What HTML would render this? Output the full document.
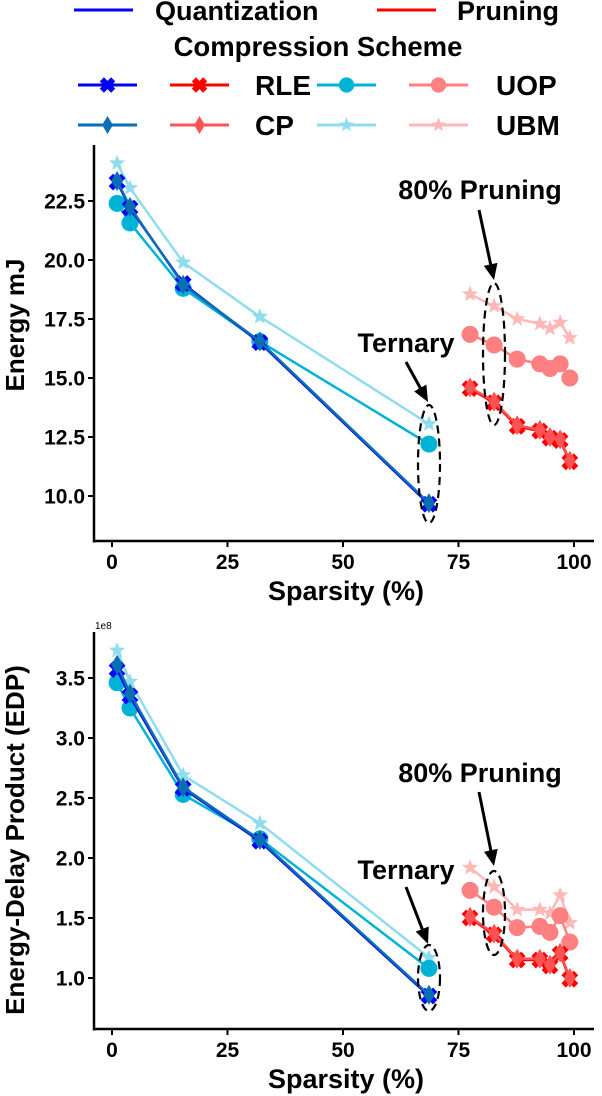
<!DOCTYPE html>
<html><head><meta charset="utf-8">
<style>
body{margin:0;background:#fff;}
svg{display:block;font-family:"Liberation Sans",sans-serif;}
</style></head>
<body>
<svg id="chart" width="602" height="1096"></svg>
<script>
// shared x data
const quantX = [1.1, 3.9, 15.4, 32, 68.6];
const pruneX = [77.5, 82.7, 87.7, 92.6, 94.8, 97, 99.1];
const xTicks = [0, 25, 50, 75, 100];
// Energy (mJ)
const eQuantRLE = [23.3, 22.2, 19.0, 16.5, 9.65];
const eQuantCP  = [23.35, 22.25, 18.95, 16.55, 9.7];
const eQuantUOP = [22.4, 21.57, 18.8, 16.55, 12.2];
const eQuantUBM = [24.1, 23.05, 19.9, 17.6, 13.05];
const ePruneRLE = [14.55, 13.95, 12.95, 12.75, 12.45, 12.35, 11.45];
const ePruneCP  = [14.6, 14.0, 13.0, 12.8, 12.5, 12.4, 11.5];
const ePruneUOP = [16.85, 16.4, 15.8, 15.6, 15.4, 15.6, 15.0];
const ePruneUBM = [18.55, 18.05, 17.5, 17.3, 17.1, 17.35, 16.7];
const eTicks = [10.0, 12.5, 15.0, 17.5, 20.0, 22.5];
// EDP (1e8)
const dQuantRLE = [3.57, 3.35, 2.58, 2.14, 0.85];
const dQuantCP  = [3.61, 3.37, 2.59, 2.15, 0.86];
const dQuantUOP = [3.46, 3.25, 2.53, 2.16, 1.08];
const dQuantUBM = [3.73, 3.47, 2.69, 2.29, 1.17];
const dPruneRLE = [1.5, 1.36, 1.15, 1.15, 1.1, 1.2, 0.99];
const dPruneCP  = [1.51, 1.37, 1.16, 1.16, 1.11, 1.21, 1.0];
const dPruneUOP = [1.73, 1.59, 1.42, 1.43, 1.38, 1.52, 1.30];
const dPruneUBM = [1.92, 1.76, 1.57, 1.57, 1.54, 1.69, 1.46];
const dTicks = [1.0, 1.5, 2.0, 2.5, 3.0, 3.5];

const NS = "http://www.w3.org/2000/svg";
const svg = document.getElementById('chart');
function mk(tag, attrs, parent, text){
  const e = document.createElementNS(NS, tag);
  for (const k in attrs) e.setAttribute(k, attrs[k]);
  if (text !== undefined) e.textContent = text;
  (parent || svg).appendChild(e);
  return e;
}
const C = {qRLE:'#0000ff', qCP:'#0a6eb4', qUOP:'#00b2d6', qUBM:'#90dcef',
           pRLE:'#ff0000', pCP:'#ff5252', pUOP:'#ff8080', pUBM:'#ffb8b8'};
const xS = v => 112 + v * 4.62;

function marker(g, type, x, y, col, s){
  s = s || 1;
  let e;
  if (type === 'x'){
    e = mk('path', {d:`M${x-7*s},${y-4*s}L${x-4*s},${y-7*s}L${x},${y-3*s}L${x+4*s},${y-7*s}L${x+7*s},${y-4*s}L${x+3*s},${y}L${x+7*s},${y+4*s}L${x+4*s},${y+7*s}L${x},${y+3*s}L${x-4*s},${y+7*s}L${x-7*s},${y+4*s}L${x-3*s},${y}Z`, fill:col, stroke:col, 'stroke-width':2}, g);
  } else if (type === 'd'){
    e = mk('path', {d:`M${x},${y-10*s}L${x+6*s},${y}L${x},${y+10*s}L${x-6*s},${y}Z`, fill:col}, g);
  } else if (type === 'o'){
    e = mk('circle', {cx:x, cy:y, r:8.5*s, fill:col}, g);
  } else {
    let p = '';
    for (let i = 0; i < 10; i++){
      const a = -Math.PI/2 + i*Math.PI/5, r = (i%2 ? 3.6 : 8.5)*s;
      p += (i ? 'L' : 'M') + (x + r*Math.cos(a)).toFixed(1) + ',' + (y + r*Math.sin(a)).toFixed(1);
    }
    e = mk('path', {d:p+'Z', fill:col}, g);
  }
  
  
}
function series(g, xs, ys, yS, col, type, name){
  const sg = mk('g', {}, g);
  
  
  mk('polyline', {points: xs.map((x,i)=>xS(x)+','+yS(ys[i])).join(' '), fill:'none', stroke:col, 'stroke-width':2.5}, sg);
  xs.forEach((x,i)=>marker(sg, type, xS(x), yS(ys[i]), col));
}
function annot(g, tx, ty, label, ax1, ay1, ax2, ay2, ex, ey, ry){
  const t = mk('text', {x:tx, y:ty, 'text-anchor':'middle', 'font-size':27, 'font-weight':'bold'}, g, label);
  
  
  const ang = Math.atan2(ay2-ay1, ax2-ax1);
  mk('line', {x1:ax1, y1:ay1, x2:ax2-10*Math.cos(ang), y2:ay2-10*Math.sin(ang), stroke:'#000', 'stroke-width':3}, g);
  const hx = ax2, hy = ay2, L = 16, W = 7;
  const bx = hx - L*Math.cos(ang), by = hy - L*Math.sin(ang);
  mk('path', {d:`M${hx},${hy}L${bx - W*Math.sin(ang)},${by + W*Math.cos(ang)}L${bx + W*Math.sin(ang)},${by - W*Math.cos(ang)}Z`, fill:'#000'}, g);
  const el = mk('ellipse', {cx:ex, cy:ey, rx:11, ry:ry, fill:'none', stroke:'#000', 'stroke-width':2.2, 'stroke-dasharray':'8,5'}, g);
  
  
}

function panel(name, yTop, yBot, yS, ticks, fmt, ylab, ylabY, data, annots){
  const g = mk('g', {});
  
  
  mk('line', {x1:94, y1:yTop, x2:94, y2:yBot+1.5, stroke:'#000', 'stroke-width':2.5}, g);
  mk('line', {x1:93, y1:yBot, x2:594, y2:yBot, stroke:'#000', 'stroke-width':2.5}, g);
  ticks.forEach(v=>{
    const y = yS(v);
    mk('line', {x1:88, y1:y, x2:94, y2:y, stroke:'#000', 'stroke-width':2}, g);
    const t = mk('text', {x:85, y:y+7.5, 'text-anchor':'end', 'font-size':21, 'font-weight':'bold'}, g, fmt(v));
    
    
  });
  xTicks.forEach(v=>{
    const x = xS(v);
    mk('line', {x1:x, y1:yBot, x2:x, y2:yBot+6, stroke:'#000', 'stroke-width':2}, g);
    const t = mk('text', {x:x, y:yBot+28, 'text-anchor':'middle', 'font-size':21, 'font-weight':'bold'}, g, v);
    
    
  });
  const xt = mk('text', {x:346, y:yBot+59, 'text-anchor':'middle', 'font-size':27, 'font-weight':'bold'}, g, 'Sparsity (%)');
  
  
  const yt = mk('text', {x:0, y:0, transform:`translate(24,${ylabY}) rotate(-90)`, 'text-anchor':'middle', 'font-size':26, 'font-weight':'bold'}, g, ylab);
  
  
  data.forEach(d=>series(g, d[0], d[1], yS, d[2], d[3], d[4]));
  annots.forEach(a=>annot(g, ...a));
  return g;
}

const yE = v => 496 - (v - 10) * 23.6;
panel('energy-panel', 145, 541, yE, eTicks, v=>v.toFixed(1), 'Energy mJ', 325, [
  [quantX, eQuantUBM, C.qUBM, 's', 'quant-ubm-series'],
  [quantX, eQuantUOP, C.qUOP, 'o', 'quant-uop-series'],
  [quantX, eQuantRLE, C.qRLE, 'x', 'quant-rle-series'],
  [quantX, eQuantCP,  C.qCP,  'd', 'quant-cp-series'],
  [pruneX, ePruneUBM, C.pUBM, 's', 'prune-ubm-series'],
  [pruneX, ePruneUOP, C.pUOP, 'o', 'prune-uop-series'],
  [pruneX, ePruneRLE, C.pRLE, 'x', 'prune-rle-series'],
  [pruneX, ePruneCP,  C.pCP,  'd', 'prune-cp-series']
], [
  [480, 199, '80% Pruning', 479, 210, 494, 280, 494, 354, 71],
  [406, 352, 'Ternary', 406, 362, 428, 402, 429, 464, 59]
]);

const yD = v => 978 - (v - 1) * 120;
const pg = panel('edp-panel', 632, 1029, yD, dTicks, v=>v.toFixed(1), 'Energy-Delay Product (EDP)', 840, [
  [quantX, dQuantUBM, C.qUBM, 's', 'quant-ubm-series'],
  [quantX, dQuantUOP, C.qUOP, 'o', 'quant-uop-series'],
  [quantX, dQuantRLE, C.qRLE, 'x', 'quant-rle-series'],
  [quantX, dQuantCP,  C.qCP,  'd', 'quant-cp-series'],
  [pruneX, dPruneUBM, C.pUBM, 's', 'prune-ubm-series'],
  [pruneX, dPruneUOP, C.pUOP, 'o', 'prune-uop-series'],
  [pruneX, dPruneRLE, C.pRLE, 'x', 'prune-rle-series'],
  [pruneX, dPruneCP,  C.pCP,  'd', 'prune-cp-series']
], [
  [480, 782, '80% Pruning', 479, 792, 494, 866, 494, 913, 42],
  [406, 879, 'Ternary', 406, 887, 428, 944, 429, 978, 33]
]);
const sc = mk('text', {x:95, y:629, 'font-size':10}, pg, '1e8');



// legend
const lg = mk('g', {});


function lgLine(x1, y, col, type, name){
  const g = mk('g', {}, lg);
  
  
  mk('line', {x1:x1, y1:y, x2:x1+59, y2:y, stroke:col, 'stroke-width':3}, g);
  if (type) marker(g, type, x1+29.5, y, col, 0.9);
}
function lgText(x, y, s, size, anchor){
  const t = mk('text', {x:x, y:y, 'font-size':size, 'font-weight':'bold', 'text-anchor':anchor||'start'}, lg, s);
  
  
}
lgLine(74, 10, '#0000ff', null, 'legend-quantization');
lgText(155, 20, 'Quantization', 27);
lgLine(377, 10, '#ff0000', null, 'legend-pruning');
lgText(457, 20, 'Pruning', 27);
lgText(318, 56, 'Compression Scheme', 27.5, 'middle');
lgLine(78, 85, C.qRLE, 'x', 'legend-quant-rle');
lgLine(170, 85, C.pRLE, 'x', 'legend-prune-rle');
lgText(255, 95, 'RLE', 28);
lgLine(317, 85, C.qUOP, 'o', 'legend-quant-uop');
lgLine(409, 85, C.pUOP, 'o', 'legend-prune-uop');
lgText(496, 95, 'UOP', 28);
lgLine(78, 125, C.qCP, 'd', 'legend-quant-cp');
lgLine(170, 125, C.pCP, 'd', 'legend-prune-cp');
lgText(255, 135, 'CP', 28);
lgLine(317, 125, C.qUBM, 's', 'legend-quant-ubm');
lgLine(409, 125, C.pUBM, 's', 'legend-prune-ubm');
lgText(496, 135, 'UBM', 28);
</script>
</body></html>
